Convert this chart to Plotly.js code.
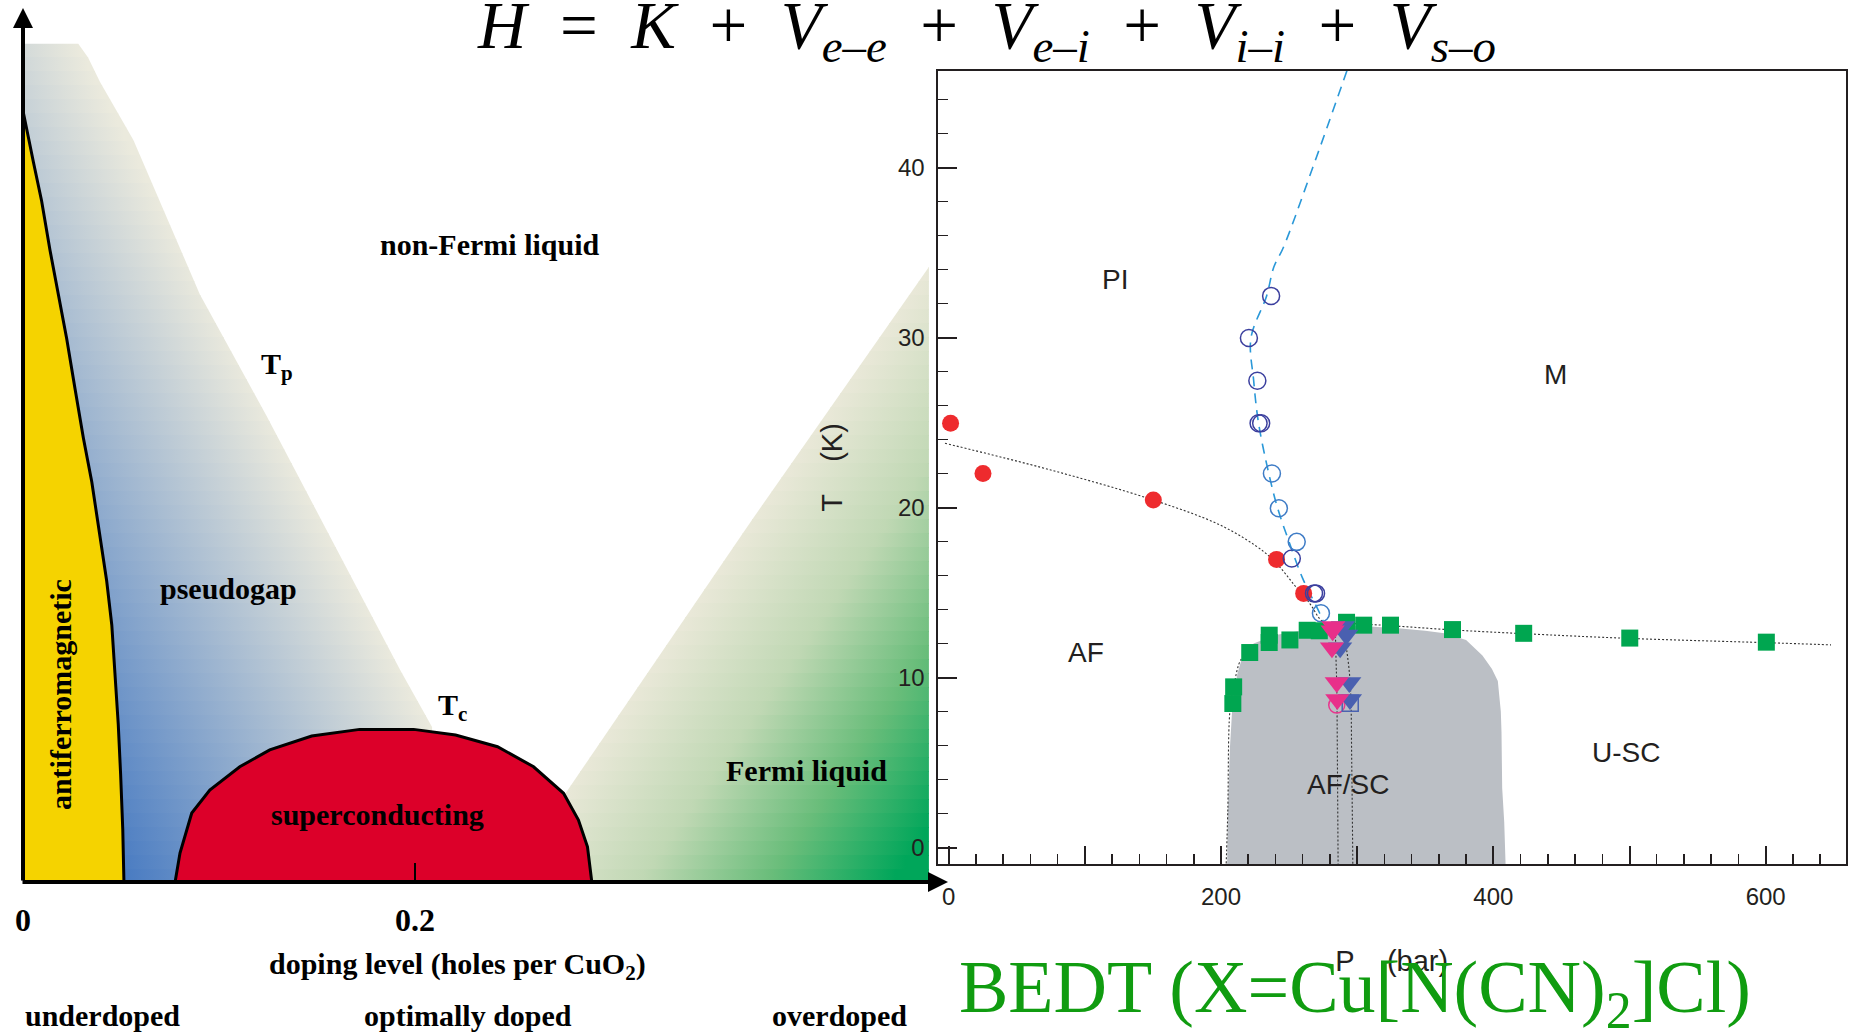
<!DOCTYPE html>
<html>
<head>
<meta charset="utf-8">
<script src="https://cdn.plot.ly/plotly-3.0.1.min.js"></script>
<style>
html,body{margin:0;padding:0;background:#ffffff;}
#chart{width:1854px;height:1033px;}
</style>
</head>
<body>
<div id="chart"></div>
<script>
// ================= DATA =================
// Left panel: schematic cuprate phase diagram (doping level vs temperature, arbitrary T units)
const AF_DOPING   = [0, 0.0002, 0.0053, 0.0095, 0.0138, 0.0180, 0.0223, 0.0265, 0.0308, 0.0351, 0.0393, 0.0427, 0.0453, 0.0469, 0.0486, 0.0498, 0.0509, 0.0515];
const AF_TEMP     = [0, 475.3, 444.9, 420.8, 390.2, 362.9, 335.7, 305.0, 274.3, 247.1, 213.2, 186.0, 158.8, 131.3, 97.3, 66.7, 32.7, 0];
const PG_DOPING   = [0, 0, 0.0282, 0.0332, 0.0393, 0.0563, 0.0903, 0.1243, 0.1583, 0.1923, 0.2087, 0.2087];
const PG_TEMP     = [0, 517.9, 517.9, 509.4, 494.3, 458.5, 362.9, 287.9, 209.6, 131.3, 95.8, 0];
const DOME_DOPING = [0.0776, 0.0801, 0.0861, 0.0953, 0.1106, 0.1259, 0.1473, 0.1718, 0.1993, 0.2207, 0.2421, 0.2605, 0.2758, 0.2834, 0.2880, 0.2902];
const DOME_TEMP   = [0, 17.9, 42.6, 56.8, 71.2, 81.6, 90.2, 94.3, 94.3, 90.8, 83.6, 71.2, 54.8, 38.3, 21.8, 0];
const FL_DOPING   = [0.2755, 0.3719, 0.4622, 0.4622, 0.2755];
const FL_TEMP     = [52.5, 223.7, 380.0, 0, 0];
const LEFT_TICK_VALUES = [0, 0.2];
const LEFT_TICK_TEXT   = ['0', '0.2'];

// Right panel: BEDT (X = Cu[N(CN)2]Cl) pressure-temperature phase diagram
const SC_REGION_P = [204.5, 205, 206.5, 208.5, 212, 216, 224, 240, 270, 300, 330, 350, 364, 380, 392, 399, 403.3, 405.5, 406, 406.5, 408, 409];
const SC_REGION_T = [-1, 2.2, 5.8, 8.5, 10.2, 11.3, 12.0, 12.5, 12.9, 13.05, 12.9, 12.75, 12.6, 12.2, 11.3, 10.5, 9.8, 8.0, 6.8, 3.5, 1.5, -1];
const SC_ONSET_P  = [222.0, 215.0, 209.3, 206.5, 205.0, 203.8];
const SC_ONSET_T  = [11.5, 11.1, 9.45, 8.0, 2.2, -1.0];
const NEEL_LINE_P = [-2.7, 74.4, 150.3, 200.9, 231.8, 243.0, 254.3, 265.5, 272.5, 278.2, 284.0];
const NEEL_LINE_T = [23.78, 22.22, 20.44, 18.91, 17.38, 16.51, 15.40, 14.32, 13.45, 13.03, 12.7];
const TC_LINE_P   = [292.2, 324.5, 370.0, 422.3, 500.2, 600.5, 648.0];
const TC_LINE_T   = [13.2, 13.05, 12.8, 12.58, 12.3, 12.05, 11.92];
const LINE_A_P    = [284.0, 284.5, 285.0, 285.5, 286.0];
const LINE_A_T    = [12.7, 11.0, 9.5, 5.0, -1.0];
const LINE_B_P    = [289.0, 292.5, 295.0, 296.0, 296.8];
const LINE_B_T    = [13.0, 11.5, 9.5, 5.0, -1.0];
const MI_LINE_P   = [292.5, 267.4, 245.8, 238.8, 233.5, 222.0, 224.0, 227.6, 235.1, 241.6, 250.0, 259.9, 272.5, 275.3];
const MI_LINE_T   = [45.7, 40.0, 35.3, 34.15, 32.45, 29.97, 27.46, 24.96, 22.0, 19.96, 17.98, 15.85, 13.78, 13.25];
const NEEL_P      = [1.4, 25.2, 150.3, 240.8, 260.7];
const NEEL_T      = [24.96, 22.0, 20.44, 16.95, 14.95];
const MI_DARK_P   = [236.8, 220.5, 226.7, 227.6, 229.5, 252.0, 268.3, 269.8];
const MI_DARK_T   = [32.45, 29.97, 27.46, 24.96, 24.96, 17.0, 14.95, 14.95];
const MI_LIGHT_P  = [237.4, 242.5, 255.6, 273.4];
const MI_LIGHT_T  = [22.0, 19.96, 17.98, 13.78];
const TC_P        = [208.7, 209.3, 221.1, 235.4, 235.4, 250.6, 263.3, 272.2, 292.2, 304.8, 324.5, 370.0, 422.3, 500.2, 600.5];
const TC_T        = [8.47, 9.45, 11.47, 12.49, 12.06, 12.21, 12.78, 12.75, 13.25, 13.08, 13.08, 12.82, 12.6, 12.32, 12.08];
const PINK_TRI_P  = [282.5, 282.0, 281.5, 285.0, 285.4];
const PINK_TRI_T  = [13.0, 12.75, 11.75, 9.7, 8.7];
const BLUE_TRI_P  = [289.5, 292.0, 287.5, 294.2, 294.7];
const BLUE_TRI_T  = [13.0, 12.5, 11.75, 9.7, 8.7];
const PINK_CIRCLE_P = [285.0];
const PINK_CIRCLE_T = [8.38];
const BLUE_SQUARE_P = [294.9];
const BLUE_SQUARE_T = [8.48];

// ================= LAYOUT GEOMETRY =================
const W = 1854, H = 1033;
const LP = {x0: 23, pxPerDop: 1960, y0: 882, pxPerT: 1.6185, xEnd: 948, yTop: 8};
const pxToDop = px => (px - LP.x0) / LP.pxPerDop;
const pxToT = py => (LP.y0 - py) / LP.pxPerT;
const toPaperY = py => (H - py) / H;
const toPaperX = px => px / W;

// gradient geometry (directions perpendicular to the region boundaries, in px)
const PG_N = {x: 0.888, y: -0.4596, blue: -290, cream: 49};
const FL_N = {x: 0.8229, y: 0.5682, cream: 916, green: 1235};
const PG_SCALE = [[0, 'rgb(74,124,194)'], [1, 'rgb(235,234,221)']];
const FL_SCALE = [[0, 'rgb(233,232,216)'], [0.35, 'rgb(192,216,180)'], [0.68, 'rgb(105,189,122)'], [1, 'rgb(0,166,90)']];

const BAND_TOP = 43, BAND_H = 14, N_BANDS = 60;
const MAIN_Y = 'y' + (N_BANDS + 1);
const RIGHT_Y = 'y' + (N_BANDS + 2);
const NB = '\u00a0';

const ink = '#231f20';
const layout = {
  width: W, height: H,
  margin: {l: 0, r: 0, t: 0, b: 0, pad: 0},
  paper_bgcolor: '#ffffff',
  plot_bgcolor: 'rgba(0,0,0,0)',
  showlegend: false,
  font: {family: 'Liberation Sans', color: ink},
  xaxis: {
    domain: [LP.x0 / W, LP.xEnd / W], range: [0, pxToDop(LP.xEnd)], anchor: MAIN_Y,
    showgrid: false, zeroline: false, showline: false, fixedrange: true,
    tickmode: 'array', tickvals: LEFT_TICK_VALUES, ticktext: LEFT_TICK_TEXT,
    ticks: 'inside', ticklen: 19, tickwidth: 2, tickcolor: '#000',
    ticklabelstandoff: 16,
    tickfont: {family: 'Liberation Serif', size: 32, color: '#000', weight: 'bold'}
  },
  xaxis2: {
    domain: [937.5 / W, 1846 / W], range: [-8.2, 659], anchor: RIGHT_Y,
    showgrid: false, zeroline: false, fixedrange: true,
    showline: true, mirror: true, linecolor: ink, linewidth: 2,
    tickmode: 'linear', tick0: 0, dtick: 100, ticklabelstep: 2,
    ticks: 'inside', ticklen: 18, tickwidth: 2, tickcolor: ink,
    minor: {dtick: 20, tick0: 0, ticks: 'inside', ticklen: 10, tickwidth: 1.5, tickcolor: ink, showgrid: false},
    ticklabelstandoff: 10,
    tickfont: {family: 'Liberation Sans', size: 24, color: ink},
    title: {text: 'P' + NB.repeat(4) + '(bar)', font: {family: 'Liberation Sans', size: 29, color: ink}, standoff: 42}
  },
  annotations: [],
  shapes: []
};

layout['yaxis' + (N_BANDS + 1)] = {
  domain: [toPaperY(LP.y0), toPaperY(LP.yTop)], range: [0, pxToT(LP.yTop)], anchor: 'x',
  visible: false, fixedrange: true
};
layout['yaxis' + (N_BANDS + 2)] = {
  domain: [toPaperY(864), toPaperY(71)], range: [-0.97, 45.68], anchor: 'x2',
  showgrid: false, zeroline: false, fixedrange: true,
  showline: true, mirror: true, linecolor: ink, linewidth: 2,
  tick0: 0, dtick: 10, ticks: 'inside', ticklen: 19, tickwidth: 2, tickcolor: ink,
  minor: {dtick: 2, tick0: 0, ticks: 'inside', ticklen: 10, tickwidth: 1.5, tickcolor: ink, showgrid: false},
  ticklabelstandoff: 6,
  tickfont: {family: 'Liberation Sans', size: 24, color: ink},
  title: {text: 'T' + NB.repeat(4) + '(K)', font: {family: 'Liberation Sans', size: 29, color: ink}, standoff: 47}
};

const traces = [];

// ---- gradient regions, drawn band by band so the gradient can follow the boundaries ----
for (let b = 0; b < N_BANDS; b++) {
  const yTopPx = BAND_TOP + b * BAND_H;
  const yBotPx = Math.min(yTopPx + BAND_H + 1, 884);
  const yc = yTopPx + BAND_H / 2;
  const yid = b === 0 ? 'y' : 'y' + (b + 1);
  layout[b === 0 ? 'yaxis' : 'yaxis' + (b + 1)] = {
    domain: [toPaperY(yBotPx), toPaperY(yTopPx)], range: [pxToT(yBotPx), pxToT(yTopPx)],
    anchor: 'x', visible: false, fixedrange: true
  };
  traces.push({
    type: 'scatter', mode: 'lines', x: PG_DOPING, y: PG_TEMP, xaxis: 'x', yaxis: yid,
    fill: 'toself', line: {width: 0, simplify: false}, hoverinfo: 'skip', showlegend: false,
    fillgradient: {
      type: 'horizontal', colorscale: PG_SCALE,
      start: pxToDop((PG_N.blue - PG_N.y * yc) / PG_N.x),
      stop: pxToDop((PG_N.cream - PG_N.y * yc) / PG_N.x)
    }
  });
  if (yBotPx > 260) {
    traces.push({
      type: 'scatter', mode: 'lines', x: FL_DOPING, y: FL_TEMP, xaxis: 'x', yaxis: yid,
      fill: 'toself', line: {width: 0, simplify: false}, hoverinfo: 'skip', showlegend: false,
      fillgradient: {
        type: 'horizontal', colorscale: FL_SCALE,
        start: pxToDop((FL_N.cream - FL_N.y * yc) / FL_N.x),
        stop: pxToDop((FL_N.green - FL_N.y * yc) / FL_N.x)
      }
    });
  }
}

// ---- left panel solid regions ----
traces.push({
  type: 'scatter', mode: 'lines', x: AF_DOPING, y: AF_TEMP, xaxis: 'x', yaxis: MAIN_Y,
  fill: 'toself', fillcolor: '#f5d300', line: {color: '#000', width: 3},
  hoverinfo: 'skip', showlegend: false, name: 'antiferromagnetic'
});
traces.push({
  type: 'scatter', mode: 'lines', x: DOME_DOPING, y: DOME_TEMP, xaxis: 'x', yaxis: MAIN_Y,
  fill: 'toself', fillcolor: '#dc0029', line: {color: '#000', width: 3},
  hoverinfo: 'skip', showlegend: false, name: 'superconducting'
});

// ---- right panel ----
const R = {xaxis: 'x2', yaxis: RIGHT_Y, hoverinfo: 'skip', showlegend: false, type: 'scatter'};
traces.push(Object.assign({}, R, {mode: 'lines', x: SC_REGION_P, y: SC_REGION_T, fill: 'toself', fillcolor: '#bbbfc5', line: {width: 0}}));
const dotted = {color: '#333333', width: 1.1, dash: '2px,2px', shape: 'spline'};
traces.push(Object.assign({}, R, {mode: 'lines', x: SC_ONSET_P, y: SC_ONSET_T, line: dotted}));
traces.push(Object.assign({}, R, {mode: 'lines', x: NEEL_LINE_P, y: NEEL_LINE_T, line: dotted}));
traces.push(Object.assign({}, R, {mode: 'lines', x: TC_LINE_P, y: TC_LINE_T, line: dotted}));
traces.push(Object.assign({}, R, {mode: 'lines', x: LINE_A_P, y: LINE_A_T, line: dotted}));
traces.push(Object.assign({}, R, {mode: 'lines', x: LINE_B_P, y: LINE_B_T, line: dotted}));
traces.push(Object.assign({}, R, {mode: 'lines', x: MI_LINE_P, y: MI_LINE_T, line: {color: '#2a98d8', width: 1.6, dash: '10px,7px', shape: 'spline'}}));
traces.push(Object.assign({}, R, {mode: 'markers', x: NEEL_P, y: NEEL_T, marker: {symbol: 'circle', size: 17, color: '#ee2b2e', line: {width: 0}}}));
traces.push(Object.assign({}, R, {mode: 'markers', x: MI_DARK_P, y: MI_DARK_T, marker: {symbol: 'circle-open', size: 17, color: '#3b3f9e', line: {width: 1.5, color: '#3b3f9e'}}}));
traces.push(Object.assign({}, R, {mode: 'markers', x: MI_LIGHT_P, y: MI_LIGHT_T, marker: {symbol: 'circle-open', size: 17, color: '#3f7cc6', line: {width: 1.5, color: '#3f7cc6'}}}));
traces.push(Object.assign({}, R, {mode: 'markers', x: TC_P, y: TC_T, marker: {symbol: 'square', size: 17, color: '#00a650', line: {width: 0}}}));
traces.push(Object.assign({}, R, {mode: 'markers', x: PINK_CIRCLE_P, y: PINK_CIRCLE_T, marker: {symbol: 'circle-open', size: 16, color: '#e8388f', line: {width: 1.5, color: '#e8388f'}}}));
traces.push(Object.assign({}, R, {mode: 'markers', x: BLUE_SQUARE_P, y: BLUE_SQUARE_T, marker: {symbol: 'square-open', size: 16, color: '#4a62b0', line: {width: 1.5, color: '#4a62b0'}}}));
traces.push(Object.assign({}, R, {mode: 'markers', x: BLUE_TRI_P, y: BLUE_TRI_T, marker: {symbol: 'triangle-down', size: 21, color: '#4a60b0', line: {width: 0}}}));
traces.push(Object.assign({}, R, {mode: 'markers', x: PINK_TRI_P, y: PINK_TRI_T, marker: {symbol: 'triangle-down', size: 21, color: '#e8308a', line: {width: 0}}}));

// ================= TEXT =================
const serifBold = {family: 'Liberation Serif', size: 30, color: '#000', weight: 'bold'};
const A = layout.annotations;
function leftLabel(text, xd, t, extra) {
  A.push(Object.assign({xref: 'x', yref: MAIN_Y, x: xd, y: t, text: text, showarrow: false, font: serifBold}, extra || {}));
}
leftLabel('non-Fermi liquid', 0.2383, 393.6);
leftLabel('T<sub>p</sub>', 0.1296, 318.8);
leftLabel('pseudogap', 0.1046, 181.6);
leftLabel('antiferromagnetic', 0.0189, 115.5, {textangle: -90});
leftLabel('T<sub>c</sub>', 0.2189, 108.1);
leftLabel('superconducting', 0.1811, 41.4);
leftLabel('Fermi liquid', 0.3995, 68.6);

function paperLabel(text, px, py, font) {
  A.push({xref: 'paper', yref: 'paper', x: toPaperX(px), y: toPaperY(py), xanchor: 'center', yanchor: 'middle', text: text, showarrow: false, font: font});
}
paperLabel('doping level (holes per CuO<sub>2</sub>)', 457, 966, serifBold);
paperLabel('underdoped', 102, 1015, serifBold);
paperLabel('optimally doped', 468, 1015, serifBold);
paperLabel('overdoped', 839, 1015, serifBold);

// axis arrows of the schematic
A.push({xref: 'x', yref: MAIN_Y, x: 0, y: pxToT(LP.yTop), axref: 'x', ayref: MAIN_Y, ax: 0, ay: 0,
        text: '', showarrow: true, arrowhead: 2, arrowsize: 1, arrowwidth: 4, arrowcolor: '#000'});
A.push({xref: 'x', yref: MAIN_Y, x: pxToDop(LP.xEnd), y: 0, axref: 'x', ayref: MAIN_Y, ax: pxToDop(21), ay: 0,
        text: '', showarrow: true, arrowhead: 2, arrowsize: 1, arrowwidth: 4, arrowcolor: '#000'});

// right panel region labels
const sans = {family: 'Liberation Sans', size: 28, color: ink};
[['PI', 122.3, 33.4], ['M', 445.4, 27.8], ['AF', 101.1, 11.5], ['AF/SC', 293.6, 3.7], ['U-SC', 497.2, 5.6]].forEach(l => {
  A.push({xref: 'x2', yref: RIGHT_Y, x: l[1], y: l[2], text: l[0], showarrow: false, font: sans});
});

// big title and compound label
const TITLE_TEXT = '<i>H</i>\u2002=\u2002<i>K</i>\u2002+\u2002<i>V</i><sub><i>e</i>–<i>e</i></sub>\u2002+\u2002<i>V</i><sub><i>e</i>–<i>i</i></sub>\u2002+\u2002<i>V</i><sub><i>i</i>–<i>i</i></sub>\u2002+\u2002<i>V</i><sub><i>s</i>–<i>o</i></sub>';
paperLabel(TITLE_TEXT, 987, 30, {family: 'Liberation Serif', size: 67, color: '#000'});
paperLabel('BEDT (X=Cu[N(CN)<sub>2</sub>]Cl)', 1354.6, 992.4, {family: 'Liberation Serif', size: 74, color: '#109c10'});

Plotly.newPlot('chart', traces, layout, {staticPlot: true, displayModeBar: false});
</script>
</body>
</html>
